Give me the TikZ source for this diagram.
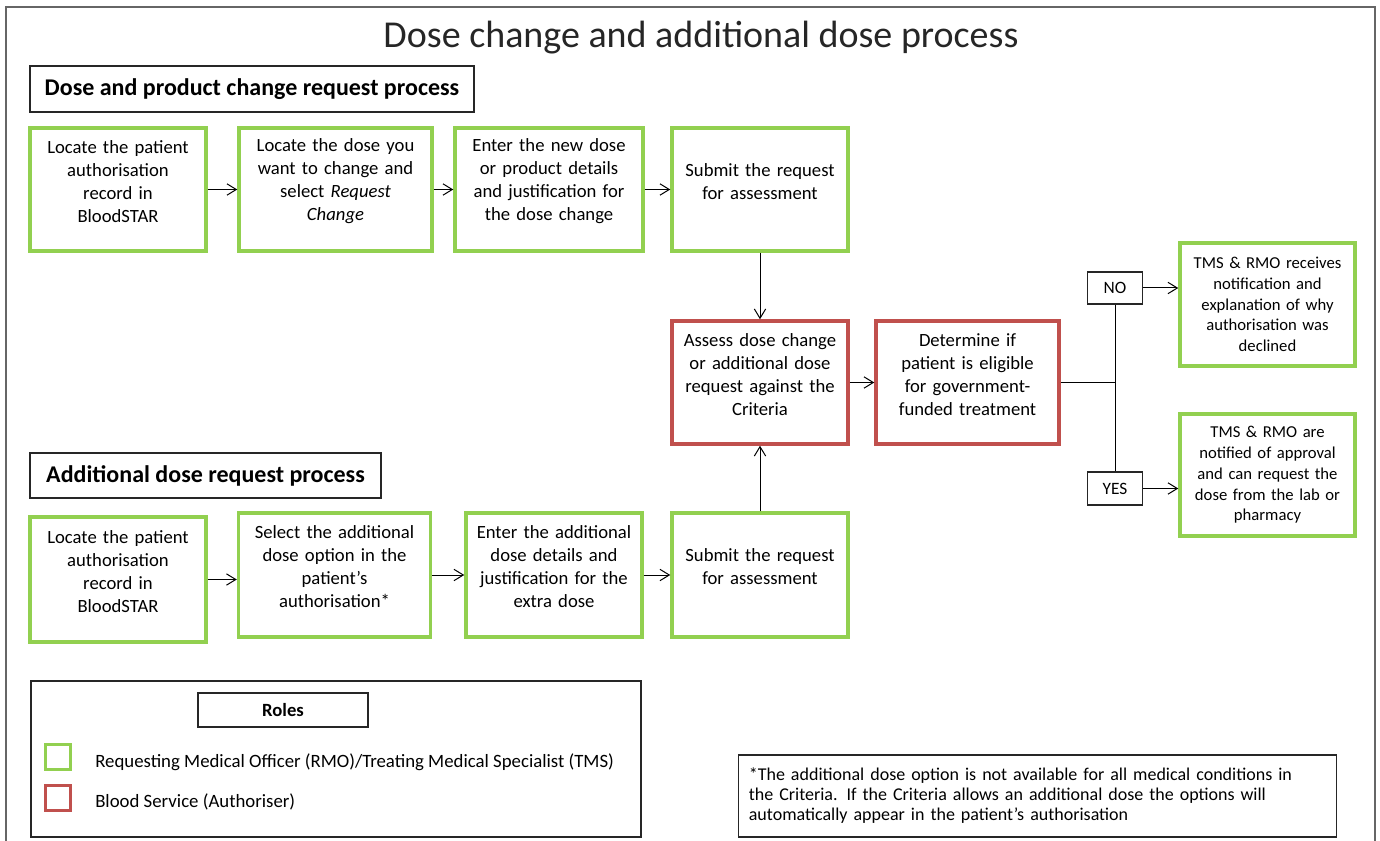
\documentclass[tikz,border=0pt]{standalone}
\usepackage{tikz}
\usepackage{fontspec}
\setmainfont{Carlito}
\usetikzlibrary{arrows.meta}
\definecolor{rmogreen}{RGB}{146,208,80}
\definecolor{authred}{RGB}{192,80,77}

\begin{document}
\begin{tikzpicture}[x=0.75pt,y=0.75pt]
\tikzstyle{every node}+=[inner sep=0pt]
\tikzstyle{boxtext}=[align=center,text width=124pt,font=\fontsize{14}{17.25}\selectfont,execute at end node={\endgraf\kern12pt}]
\tikzstyle{rmo}=[boxtext,draw=rmogreen,line width=2.6pt]
\tikzstyle{auth}=[boxtext,draw=authred,line width=2.6pt]
\tikzstyle{outcome}=[draw=rmogreen,line width=2.6pt,align=center,text width=124pt,font=\fontsize{12.5}{15.6}\selectfont]
\tikzstyle{head}=[draw=black!85,line width=0.9pt,font=\fontsize{18}{21}\selectfont\bfseries]
\tikzstyle{answer}=[draw=black!85,line width=0.9pt,font=\fontsize{13}{15}\selectfont]
\tikzstyle{flow}=[-{Straight Barb[length=7pt,width=8.5pt]},line width=0.75pt]
\useasboundingbox (0,0) rectangle (1380,-841);
\draw [black!60,line width=1.1pt] (6,-841) -- (6,-7) -- (1375,-7) -- (1375,-841);
\node [text=black!85,font=\fontsize{28.5}{32}\selectfont] (title) at (701,-38) {Dose change and additional dose process};
\node [head,minimum width=333pt,minimum height=34.5pt] (changehead) at (252,-89) {Dose and product change request process};
\node [rmo,minimum width=132pt,minimum height=92.25pt] (loc) at (118,-189.5) {Locate the patient\\ authorisation\\ record in\\ BloodSTAR};
\node [rmo,minimum width=144.75pt,minimum height=92.25pt] (sel) at (335.5,-189.5) {Locate the dose you\\ want to change and\\ select \textit{Request}\\ \textit{Change}};
\node [rmo,minimum width=141pt,minimum height=92.25pt] (ent) at (549,-189.5) {Enter the new dose\\ or product details\\ and justification for\\ the dose change};
\node [rmo,minimum width=132pt,minimum height=92.25pt] (sub) at (760,-189.5) {Submit the request\\ for assessment};
\node [auth,minimum width=132pt,minimum height=92.25pt] (assess) at (760,-382.5) {Assess dose change\\ or additional dose\\ request against the\\ Criteria};
\node [auth,minimum width=137.25pt,minimum height=92.25pt] (elig) at (967.5,-382.5) {Determine if\\ patient is eligible\\ for government-\\ funded treatment};
\node [answer,minimum width=41.25pt,minimum height=24pt] (no) at (1115,-288) {NO};
\node [answer,minimum width=41.25pt,minimum height=24.75pt] (yes) at (1115,-488.5) {YES};
\node [outcome,minimum width=131.25pt,minimum height=92.25pt] (declined) at (1267.5,-304.5) {TMS \& RMO receives\\ notification and\\ explanation of why\\ authorisation was\\ declined};
\node [outcome,minimum width=131.25pt,minimum height=91.5pt] (approved) at (1267.5,-475) {TMS \& RMO are\\ notified of approval\\ and can request the\\ dose from the lab or\\ pharmacy};
\node [head,minimum width=263.25pt,minimum height=33.75pt] (addhead) at (205.5,-475.5) {Additional dose request process};
\node [rmo,minimum width=132pt,minimum height=93.75pt] (aloc) at (118,-579.5) {Locate the patient\\ authorisation\\ record in\\ BloodSTAR};
\node [rmo,minimum width=144pt,minimum height=93pt] (asel) at (334.5,-575) {Select the additional\\ dose option in the\\ patient’s\\ authorisation*};
\node [rmo,minimum width=132pt,minimum height=93pt] (aent) at (554,-575) {Enter the additional\\ dose details and\\ justification for the\\ extra dose};
\node [rmo,minimum width=132pt,minimum height=93pt] (asub) at (760,-575) {Submit the request\\ for assessment};
\node [draw=black!85,line width=0.9pt,minimum width=457.5pt,minimum height=117pt] (legend) at (336,-759) {};
\node [draw=black!85,line width=0.9pt,minimum width=127.5pt,minimum height=25.5pt,font=\fontsize{14}{16}\selectfont\bfseries] (roles) at (283,-710) {Roles};
\node [draw=rmogreen,line width=2.6pt,minimum size=19pt] (rmokey) at (58,-757) {};
\node [draw=authred,line width=2.6pt,minimum size=19pt] (authkey) at (58,-798) {};
\node [anchor=west,font=\fontsize{14.1}{16}\selectfont] (rmotext) at (95,-762) {Requesting Medical Officer (RMO)/Treating Medical Specialist (TMS)};
\node [anchor=west,font=\fontsize{14.1}{16}\selectfont] (authtext) at (95,-802) {Blood Service (Authoriser)};
\node [draw=black!85,line width=0.9pt,minimum height=61.5pt,text width=433pt,inner xsep=7.5pt,align=left,font=\fontsize{13.5}{15}\selectfont] (note) at (1037.5,-796) {*The additional dose option is not available for all medical conditions in\\ the Criteria. If the Criteria allows an additional dose the options will\\ automatically appear in the patient’s authorisation};
\draw [flow] (loc) -- (sel);
\draw [flow] (sel) -- (ent);
\draw [flow] (ent) -- (sub);
\draw [flow] (sub) -- (assess);
\draw [flow] (asub) -- (assess);
\draw [flow] (aloc.east) -- (aloc.east -| asel.west);
\draw [flow] (asel) -- (aent);
\draw [flow] (aent) -- (asub);
\draw [flow] (assess) -- (elig);
\coordinate (split) at (no.south |- elig.east);
\draw [line width=0.75pt] (elig.east) -- (split);
\draw [line width=0.75pt] (no.south) -- (yes.north);
\draw [flow] (no.east) -- (no.east -| declined.west);
\draw [flow] (yes.east) -- (yes.east -| approved.west);
\end{tikzpicture}
\end{document}
